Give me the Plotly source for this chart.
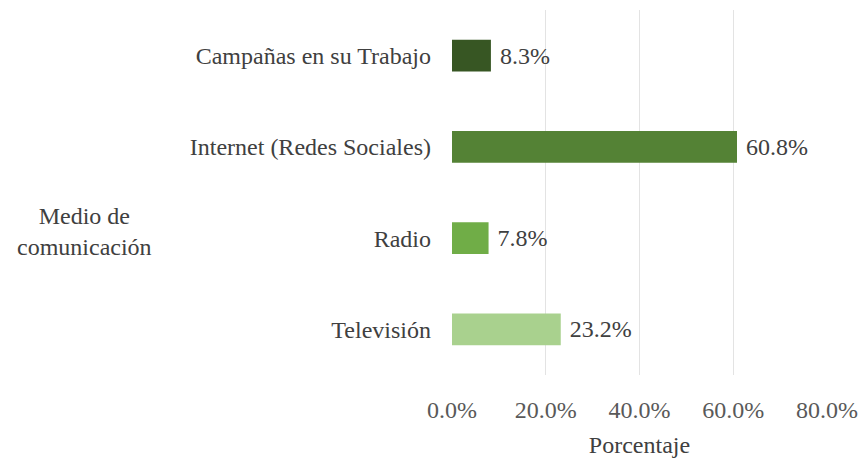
import plotly.graph_objects as go

# Medios de comunicación y porcentaje de respuestas
medios = ["Campañas en su Trabajo", "Internet (Redes Sociales)", "Radio", "Televisión"]
porcentajes = [8.3, 60.8, 7.8, 23.2]
colores = ["#375623", "#548235", "#70AD47", "#A9D18E"]
ticks_x = [0, 20, 40, 60, 80]
etiquetas_x = ["0.0%", "20.0%", "40.0%", "60.0%", "80.0%"]

FUENTE = "Liberation Serif"
TAM = 24

fig = go.Figure(
    go.Bar(
        x=[p / 100 for p in porcentajes],
        y=medios,
        orientation="h",
        marker=dict(color=colores, line=dict(width=0)),
        width=0.35,
        text=[f" {p:.1f}%" for p in porcentajes],
        textposition="outside",
        cliponaxis=False,
        textfont=dict(family=FUENTE, size=TAM, color="#404040"),
    )
)

fig.update_layout(
    width=868,
    height=464,
    margin=dict(l=452, r=36, t=10, b=86),
    plot_bgcolor="white",
    paper_bgcolor="white",
    showlegend=False,
    font=dict(family=FUENTE, size=TAM, color="#404040"),
    xaxis=dict(
        range=[0, 0.8],
        tickvals=[t / 100 for t in ticks_x],
        ticktext=etiquetas_x,
        showgrid=True,
        gridcolor="#E3E3E3",
        gridwidth=1,
        zeroline=False,
        showline=False,
        ticks="",
        ticklabelstandoff=18,
        tickfont=dict(family=FUENTE, size=TAM, color="#595959"),
        title=dict(text="Porcentaje", font=dict(family=FUENTE, size=TAM, color="#404040"), standoff=14),
    ),
    yaxis=dict(
        categoryorder="array",
        categoryarray=medios[::-1],
        showgrid=False,
        showline=False,
        ticks="",
        ticklabelstandoff=20,
        tickfont=dict(family=FUENTE, size=TAM, color="#404040"),
    ),
    annotations=[
        dict(
            text="Medio de<br>comunicación",
            xref="paper",
            yref="paper",
            x=(80 - 452) / (868 - 452 - 36),
            y=(378 - 233) / 368,
            xanchor="center",
            yanchor="middle",
            showarrow=False,
            align="center",
            font=dict(family=FUENTE, size=TAM, color="#404040"),
        )
    ],
)

fig.write_html("out.html")
